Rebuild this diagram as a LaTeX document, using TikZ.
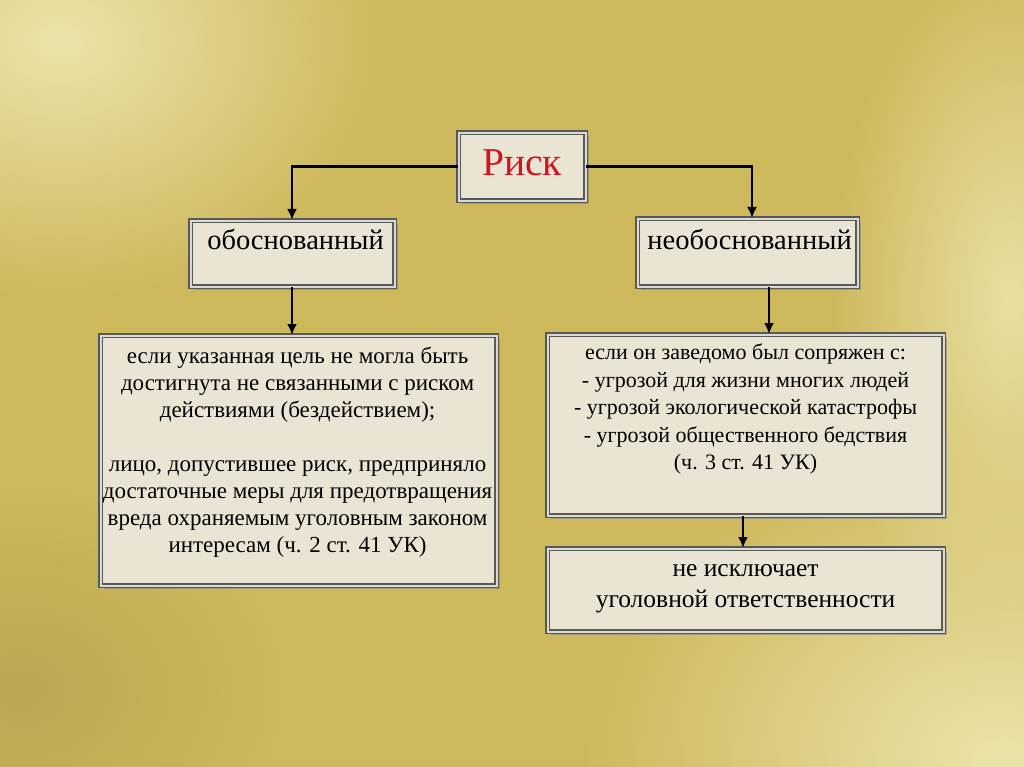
\documentclass[tikz,border=0pt]{standalone}
\usepackage{fontspec}
\setmainfont{Liberation Serif}
\usetikzlibrary{arrows.meta,shadows,fadings}
\tikzfading[name=softglow, inner color=transparent!0, outer color=transparent!100]
\definecolor{bgbase}{RGB}{206,184,92}
\definecolor{bglight}{RGB}{235,228,170}
\definecolor{boxfill}{RGB}{234,228,212}
\definecolor{boxedge}{RGB}{90,90,85}
\definecolor{riskred}{RGB}{210,20,30}
\tikzset{
  box/.style={rectangle, fill=boxfill, draw=boxedge, line width=1.1pt,
    double=gray!30, double distance=2pt, inner sep=0pt,
    drop shadow={opacity=0.55, shadow xshift=3pt, shadow yshift=-3pt}},
  txt/.style={align=center, inner sep=0pt, text=black},
  conn/.style={line width=2.2pt, black},
  arr/.style={conn, -{Latex[length=11pt,width=10pt]}}
}
\begin{document}
\begin{tikzpicture}[x=1pt,y=-1pt]
\useasboundingbox (0,0) rectangle (1024,767);
% background
\fill[bgbase] (0,0) rectangle (1024,767);
\fill[bglight, path fading=softglow] (60,40) ellipse (330 and 260);
\fill[bglight, path fading=softglow] (1000,760) ellipse (420 and 330);
\fill[bglight!90!bgbase, path fading=softglow] (1010,300) ellipse (180 and 360);
\fill[bgbase!85!black, path fading=softglow, opacity=0.6] (20,690) ellipse (260 and 200);
% boxes
\node[box, anchor=north west, minimum width=127pt, minimum height=68pt] (risk) at (458,132) {};
\node[box, anchor=north west, minimum width=204pt, minimum height=66pt] (jus) at (190,220) {};
\node[box, anchor=north west, minimum width=220pt, minimum height=68pt] (unj) at (637,218) {};
\node[box, anchor=north west, minimum width=396pt, minimum height=250pt] (ljb) at (100,335) {};
\node[box, anchor=north west, minimum width=396pt, minimum height=181pt] (rjb) at (547,334) {};
\node[box, anchor=north west, minimum width=396pt, minimum height=83pt] (res) at (547,548) {};
% texts
\node[txt, anchor=base, font=\fontsize{39.5}{42}\selectfont, text=riskred] (riskt) at ([yshift=-9pt]risk.center) {Риск};
\node[txt, anchor=base, font=\fontsize{28.5}{30}\selectfont] (just) at ([xshift=3pt,yshift=4pt]jus.center) {обоснованный};
\node[txt, anchor=base, font=\fontsize{28.5}{30}\selectfont] (unjt) at ([xshift=2pt,yshift=3pt]unj.center) {необоснованный};
\node[txt, anchor=north, font=\fontsize{23}{27}\selectfont] (ljbt) at ([xshift=-1pt,yshift=-12pt]ljb.north) {если указанная цель не могла быть\\достигнута не связанными с риском\\действиями (бездействием);\\[27pt]лицо, допустившее риск, предприняло\\достаточные меры для предотвращения\\вреда охраняемым уголовным законом\\интересам (ч. 2 ст. 41 УК)};
\node[txt, anchor=north, font=\fontsize{22}{27.5}\selectfont] (rjbt) at ([yshift=-10pt]rjb.north) {если он заведомо был сопряжен с:\\- угрозой для жизни многих людей\\- угрозой экологической катастрофы\\- угрозой общественного бедствия\\(ч. 3 ст. 41 УК)};
\node[txt, anchor=north, font=\fontsize{25.5}{31}\selectfont] (rest) at ([yshift=-16pt]res.north) {не исключает\\уголовной ответственности};
% connectors
\draw[arr] (risk.west) -| (jus.north -| 292,0);
\draw[arr] (risk.east) -| (unj.north -| 752,0);
\draw[arr] (jus.south -| 292,0) -- (ljb.north -| 292,0);
\draw[arr] (unj.south -| 769,0) -- (rjb.north -| 769,0);
\draw[arr] (rjb.south -| 743,0) -- (res.north -| 743,0);
\end{tikzpicture}
\end{document}
